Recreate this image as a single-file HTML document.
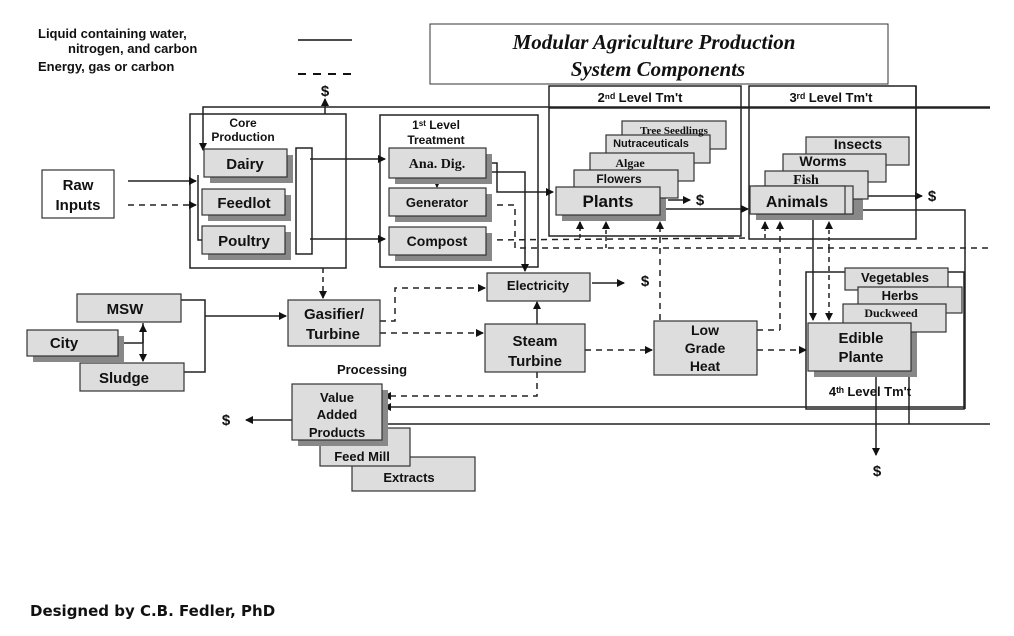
<!DOCTYPE html>
<html><head><meta charset="utf-8"><style>
html,body{margin:0;padding:0;background:#fff;width:1014px;height:636px;overflow:hidden}
svg text{font-family:"Liberation Sans",sans-serif;font-weight:bold;fill:#111}
</style></head><body>
<svg width="1014" height="636" viewBox="0 0 1014 636" xmlns="http://www.w3.org/2000/svg">
<defs>
<marker id="a" markerWidth="8" markerHeight="8" refX="7" refY="4" orient="auto" markerUnits="userSpaceOnUse"><path d="M0,0 L8,4 L0,8 z" fill="#111"/></marker>
</defs>
<text x="38" y="38" font-size="13">Liquid containing water,</text>
<text x="68" y="53" font-size="13">nitrogen, and carbon</text>
<text x="38" y="71" font-size="13">Energy, gas or carbon</text>
<line x1="298" y1="40" x2="352" y2="40" stroke="#111" stroke-width="1.5"/>
<line x1="298" y1="74" x2="352" y2="74" stroke="#111" stroke-width="2" stroke-dasharray="8,7"/>
<rect x="430" y="24" width="458" height="60" fill="#fff" stroke="#333"/>
<text x="654" y="49" font-size="21" text-anchor="middle" style="font-family:'Liberation Serif',serif;font-style:italic">Modular Agriculture Production</text>
<text x="658" y="76" font-size="21" text-anchor="middle" style="font-family:'Liberation Serif',serif;font-style:italic">System Components</text>

<g fill="none" stroke="#222" stroke-width="1.5">
<rect x="190" y="114" width="156" height="154"/>
<rect x="380" y="115" width="158" height="152"/>
<rect x="549" y="86" width="192" height="150"/>
<line x1="549" y1="108" x2="741" y2="108"/>
<rect x="749" y="86" width="167" height="153"/>
<line x1="741" y1="108" x2="990" y2="108"/>
<rect x="806" y="272" width="158" height="137"/>
<polyline points="990,107 203,107 203,150" marker-end="url(#a)"/>
<polyline points="198,175 198,240 203,240"/>
<rect x="296" y="148" width="16" height="106" fill="#fff"/>
<line x1="325" y1="114" x2="325" y2="99" marker-end="url(#a)"/>
<line x1="128" y1="181" x2="196" y2="181" marker-end="url(#a)"/>
<line x1="128" y1="205" x2="196" y2="205" stroke-dasharray="6,5" marker-end="url(#a)"/>
<line x1="310" y1="159" x2="385" y2="159" marker-end="url(#a)"/>
<line x1="310" y1="239" x2="385" y2="239" marker-end="url(#a)"/>
<line x1="437" y1="178" x2="437" y2="187" marker-end="url(#a)"/>
<polyline points="486,163 497,163 497,192 553,192" marker-end="url(#a)"/>
<polyline points="486,172 525,172 525,271" marker-end="url(#a)"/>
<polyline points="486,205 515,205 515,248 990,248" stroke-dasharray="6,5"/>
<polyline points="486,240 750,238" stroke-dasharray="6,5"/>
<line x1="668" y1="200" x2="690" y2="200" marker-end="url(#a)"/>
<line x1="662" y1="209" x2="748" y2="209" marker-end="url(#a)"/>
<line x1="860" y1="196" x2="922" y2="196" marker-end="url(#a)"/>
<polyline points="850,210 965,210 965,409"/>
<line x1="916" y1="86" x2="916" y2="196"/>
<polyline points="580,238 580,222" stroke-dasharray="4,3" marker-end="url(#a)"/>
<polyline points="606,248 606,222" stroke-dasharray="4,3" marker-end="url(#a)"/>
<polyline points="660,320 660,222" stroke-dasharray="6,5" marker-end="url(#a)"/>
<polyline points="765,238 765,222" stroke-dasharray="4,3" marker-end="url(#a)"/>
<polyline points="780,330 780,222" stroke-dasharray="6,5" marker-end="url(#a)"/>
<polyline points="829,248 829,222" stroke-dasharray="4,3" marker-end="url(#a)"/>
<line x1="813" y1="220" x2="813" y2="320" marker-end="url(#a)"/>
<line x1="829" y1="248" x2="829" y2="320" stroke-dasharray="5,4" marker-end="url(#a)"/>
<polyline points="757,330 780,330" stroke-dasharray="6,5"/>
<polyline points="181,300 205,300 205,372 184,372"/>
<line x1="205" y1="316" x2="286" y2="316" marker-end="url(#a)"/>
<line x1="143" y1="323" x2="143" y2="361" marker-end="url(#a)"/>
<line x1="143" y1="343" x2="143" y2="325" marker-end="url(#a)"/>
<line x1="118" y1="343" x2="143" y2="343"/>
<line x1="323" y1="268" x2="323" y2="298" stroke-dasharray="5,4" marker-end="url(#a)"/>
<polyline points="380,321 395,321 395,288 485,288" stroke-dasharray="6,5" marker-end="url(#a)"/>
<line x1="380" y1="333" x2="483" y2="333" stroke-dasharray="6,5" marker-end="url(#a)"/>
<line x1="592" y1="283" x2="624" y2="283" marker-end="url(#a)"/>
<line x1="537" y1="324" x2="537" y2="302" marker-end="url(#a)"/>
<line x1="585" y1="350" x2="652" y2="350" stroke-dasharray="6,5" marker-end="url(#a)"/>
<line x1="757" y1="350" x2="806" y2="350" stroke-dasharray="6,5" marker-end="url(#a)"/>
<polyline points="537,372 537,396 384,396" stroke-dasharray="6,5" marker-end="url(#a)"/>
<polyline points="965,407 384,407" marker-end="url(#a)"/>
<polyline points="384,424 990,424"/>
<line x1="909" y1="371" x2="909" y2="424"/>
<line x1="876" y1="371" x2="876" y2="455" marker-end="url(#a)"/>
<line x1="292" y1="420" x2="246" y2="420" marker-end="url(#a)"/>
</g>

<g stroke="#333" stroke-width="1.2">
<g fill="#888" stroke="none">
<rect x="210" y="155" width="83" height="28"/><rect x="208" y="195" width="83" height="26"/><rect x="208" y="232" width="83" height="28"/>
<rect x="395" y="154" width="97" height="30"/><rect x="395" y="194" width="97" height="28"/><rect x="395" y="233" width="97" height="28"/>
<rect x="562" y="193" width="104" height="28"/><rect x="756" y="192" width="107" height="28"/>
<rect x="33" y="336" width="91" height="26"/><rect x="814" y="329" width="103" height="48"/>
</g>
<g fill="#ddd">
<rect x="622" y="121" width="104" height="28"/>
<rect x="606" y="135" width="104" height="28"/>
<rect x="590" y="153" width="104" height="28"/>
<rect x="574" y="170" width="104" height="28"/>
<rect x="556" y="187" width="104" height="28"/>
<rect x="806" y="137" width="103" height="28"/>
<rect x="783" y="154" width="103" height="28"/>
<rect x="765" y="171" width="103" height="28"/>
<rect x="754" y="186" width="99" height="28"/>
<rect x="750" y="186" width="95" height="28"/>
<rect x="204" y="149" width="83" height="28"/>
<rect x="202" y="189" width="83" height="26"/>
<rect x="202" y="226" width="83" height="28"/>
<rect x="389" y="148" width="97" height="30"/>
<rect x="389" y="188" width="97" height="28"/>
<rect x="389" y="227" width="97" height="28"/>
<rect x="487" y="273" width="103" height="28"/>
<rect x="77" y="294" width="104" height="28"/>
<rect x="27" y="330" width="91" height="26"/>
<rect x="80" y="363" width="104" height="28"/>
<rect x="288" y="300" width="92" height="46"/>
<rect x="485" y="324" width="100" height="48"/>
<rect x="654" y="321" width="103" height="54"/>
<rect x="845" y="268" width="103" height="22"/>
<rect x="858" y="287" width="104" height="26"/>
<rect x="843" y="304" width="103" height="28"/>
<rect x="808" y="323" width="103" height="48"/>
<rect x="352" y="457" width="123" height="34"/>
<rect x="320" y="428" width="90" height="38"/>
<rect x="298" y="390" width="90" height="56" fill="#888" stroke="none"/>
<rect x="292" y="384" width="90" height="56"/>
</g>
<rect x="42" y="170" width="72" height="48" fill="#fff"/>
</g>

<g font-size="15" text-anchor="middle">
<text x="78" y="190">Raw</text><text x="78" y="210">Inputs</text>
<text x="243" y="127" font-size="12" font-weight="normal">Core</text>
<text x="243" y="141" font-size="12" font-weight="normal">Production</text>
<text x="245" y="169">Dairy</text><text x="244" y="208">Feedlot</text><text x="244" y="246">Poultry</text>
<text x="436" y="129" font-size="12" font-weight="normal">1ˢᵗ Level</text>
<text x="436" y="144" font-size="12" font-weight="normal">Treatment</text>
<text x="437" y="168" font-size="14" style="font-family:'Liberation Serif',serif">Ana. Dig.</text>
<text x="437" y="207" font-size="13">Generator</text>
<text x="437" y="246" font-size="14">Compost</text>
<text x="640" y="102" font-size="13">2ⁿᵈ Level Tm't</text>
<text x="831" y="102" font-size="13">3ʳᵈ Level Tm't</text>
<text x="674" y="134" font-size="11" style="font-family:'Liberation Serif',serif">Tree Seedlings</text>
<text x="651" y="147" font-size="11">Nutraceuticals</text>
<text x="630" y="167" font-size="12" style="font-family:'Liberation Serif',serif">Algae</text>
<text x="619" y="183" font-size="12">Flowers</text>
<text x="608" y="207" font-size="17">Plants</text>
<text x="858" y="149" font-size="14">Insects</text>
<text x="823" y="166" font-size="14">Worms</text>
<text x="806" y="184" font-size="14" style="font-family:'Liberation Serif',serif">Fish</text>
<text x="797" y="207" font-size="16">Animals</text>
<text x="325" y="96">$</text>
<text x="700" y="205">$</text><text x="932" y="201">$</text>
<text x="538" y="290" font-size="13">Electricity</text>
<text x="645" y="286">$</text>
<text x="125" y="314">MSW</text><text x="64" y="348">City</text><text x="124" y="383">Sludge</text>
<text x="334" y="319">Gasifier/</text><text x="333" y="339">Turbine</text>
<text x="535" y="346">Steam</text><text x="535" y="366">Turbine</text>
<text x="705" y="335" font-size="14">Low</text><text x="705" y="353" font-size="14">Grade</text><text x="705" y="371" font-size="14">Heat</text>
<text x="895" y="282" font-size="13">Vegetables</text>
<text x="900" y="300" font-size="13">Herbs</text>
<text x="891" y="317" font-size="12" style="font-family:'Liberation Serif',serif">Duckweed</text>
<text x="861" y="343">Edible</text><text x="861" y="362">Plante</text>
<text x="870" y="396" font-size="13">4ᵗʰ Level Tm't</text>
<text x="372" y="374" font-size="13">Processing</text>
<text x="337" y="402" font-size="13">Value</text><text x="337" y="419" font-size="13">Added</text><text x="337" y="437" font-size="13">Products</text>
<text x="362" y="461" font-size="13">Feed Mill</text>
<text x="409" y="482" font-size="13">Extracts</text>
<text x="226" y="425">$</text>
<text x="877" y="476">$</text>
</g>
<text x="30" y="616" font-size="15" style="font-family:'DejaVu Sans',sans-serif">Designed by C.B. Fedler, PhD</text>
</svg>
</body></html>
